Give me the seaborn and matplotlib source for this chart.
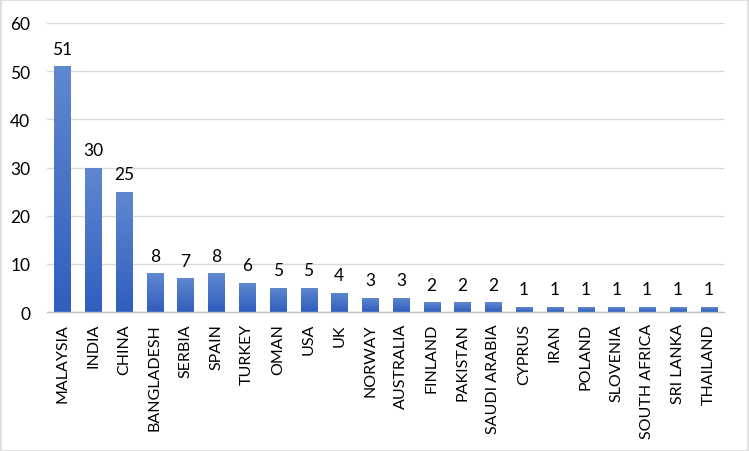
import matplotlib
matplotlib.use("Agg")
import matplotlib.pyplot as plt
import numpy as np
import pandas as pd
import seaborn as sns
from matplotlib.colors import LinearSegmentedColormap

countries = ["MALAYSIA", "INDIA", "CHINA", "BANGLADESH", "SERBIA", "SPAIN", "TURKEY",
             "OMAN", "USA", "UK", "NORWAY", "AUSTRALIA", "FINLAND", "PAKISTAN",
             "SAUDI ARABIA", "CYPRUS", "IRAN", "POLAND", "SLOVENIA", "SOUTH AFRICA",
             "SRI LANKA", "THAILAND"]
counts = [51, 30, 25, 8, 7, 8, 6, 5, 5, 4, 3, 3, 2, 2, 2, 1, 1, 1, 1, 1, 1, 1]
y_ticks = [0, 10, 20, 30, 40, 50, 60]

df = pd.DataFrame({"country": countries, "count": counts})

sns.set_theme(style="white")
plt.rcParams["font.family"] = ["Lato", "DejaVu Sans"]

fig = plt.figure(figsize=(7.49, 4.52), dpi=100)
ax = fig.add_axes([47/749, 1-313/452, (724-47)/749, (313-24)/452])

sns.barplot(data=df, x="country", y="count", color="#4472c4", width=0.52, ax=ax,
            saturation=1, zorder=3)

cmap = LinearSegmentedColormap.from_list("g", ["#2f5ebe", "#6088d0"])
grad = np.linspace(0, 1, 256).reshape(-1, 1)
for p in ax.patches:
    x0, y0 = p.get_x(), p.get_y()
    w, h = p.get_width(), p.get_height()
    im = ax.imshow(grad, cmap=cmap, origin="lower", aspect="auto",
                   extent=[x0, x0 + w, y0, y0 + h], zorder=4)
    im.set_clip_path(p)

ax.set_xlim(-0.5, len(countries) - 0.5)
ax.set_ylim(0, 60)
ax.set_yticks(y_ticks)
ax.yaxis.grid(True, color="#d9d9d9", linewidth=1, zorder=0)
ax.set_axisbelow(True)
for s in ["top", "right", "left"]:
    ax.spines[s].set_visible(False)
ax.spines["bottom"].set_color("#bfbfbf")
ax.spines["bottom"].set_linewidth(1)
ax.spines["bottom"].set_zorder(5)

ax.set_xlabel("")
ax.set_ylabel("")
ax.tick_params(axis="x", rotation=90, labelsize=11.5, colors="#000000", length=0, pad=8)
ax.tick_params(axis="y", labelsize=12.5, colors="#000000", length=0, pad=12)

for i, v in enumerate(counts):
    ax.annotate(str(v), (i, v), xytext=(0, 7), textcoords="offset points",
                ha="center", va="bottom", fontsize=12.5, color="#000000", zorder=6)

fig.patches.append(plt.Rectangle((0.001, 0.001), 0.997, 0.997, transform=fig.transFigure,
                                 fill=False, edgecolor="#d9d9d9", linewidth=1.2))

fig.savefig("out.png", dpi=100)
